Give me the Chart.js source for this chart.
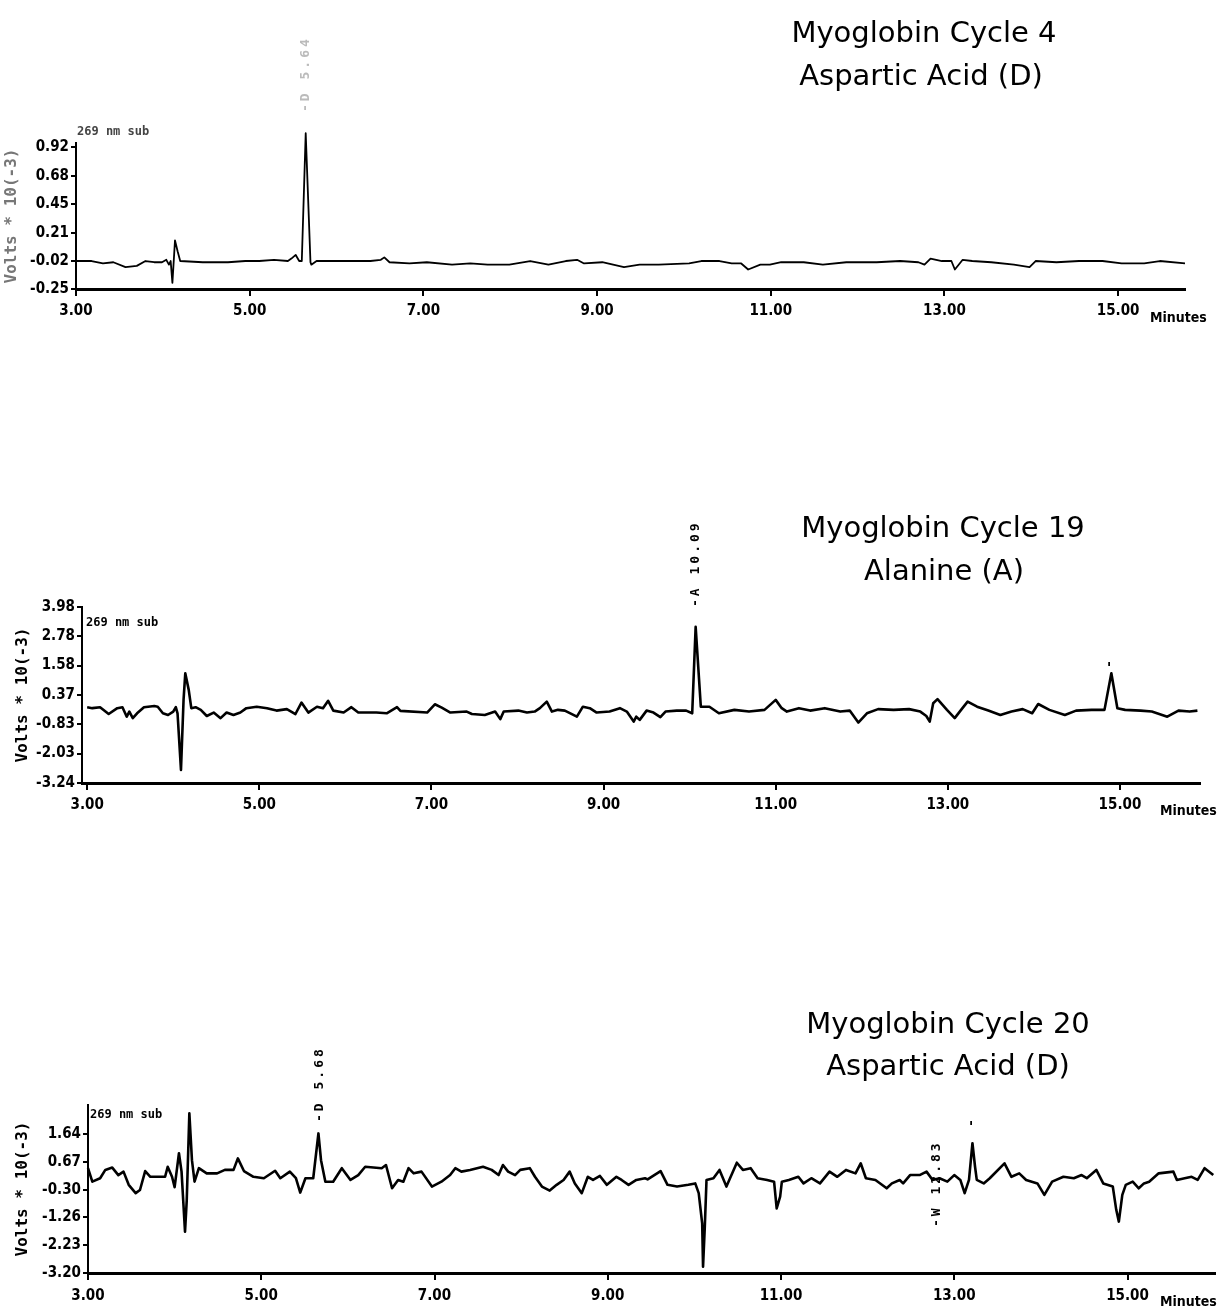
<!DOCTYPE html>
<html>
<head>
<meta charset="utf-8">
<script src="https://cdn.jsdelivr.net/npm/chart.js@4.4.1/dist/chart.umd.min.js"></script>
<style>
  html, body { margin: 0; padding: 0; background: #fff; }
  body { width: 1218px; height: 1308px; position: relative; overflow: hidden; }
  .panel { position: absolute; left: 0; }
</style>
</head>
<body>
<div class="panel" style="top:0"><canvas id="cycle4Chart" width="1218" height="330" style="width:1218px;height:330px"></canvas></div>
<div class="panel" style="top:330px"><canvas id="cycle19Chart" width="1218" height="500" style="width:1218px;height:500px"></canvas></div>
<div class="panel" style="top:830px"><canvas id="cycle20Chart" width="1218" height="478" style="width:1218px;height:478px"></canvas></div>
<script>
// Tick values
const xTickMinutes = [3, 5, 7, 9, 11, 13, 15];
const cycle4YTicks = [-0.25, -0.02, 0.21, 0.45, 0.68, 0.92];
const cycle19YTicks = [-3.24, -2.03, -0.83, 0.37, 1.58, 2.78, 3.98];
const cycle20YTicks = [-3.20, -2.23, -1.26, -0.30, 0.67, 1.64];

// Cycle 4 trace (minutes / volts * 10^-3)
const cycle4Time = [3.00, 3.18, 3.31, 3.43, 3.57, 3.70, 3.80, 3.90, 3.99, 4.04, 4.07, 4.09, 4.11, 4.14, 4.17, 4.20,
  4.46, 4.75, 4.95, 5.11, 5.28, 5.44, 5.48, 5.53, 5.57, 5.60, 5.645, 5.70, 5.71, 5.77, 6.10, 6.39, 6.51, 6.55, 6.61,
  6.84, 7.04, 7.33, 7.54, 7.74, 7.99, 8.23, 8.44, 8.64, 8.77, 8.85, 9.06, 9.31, 9.49, 9.71, 10.06, 10.20, 10.41,
  10.55, 10.66, 10.74, 10.88, 10.99, 11.12, 11.38, 11.60, 11.87, 12.22, 12.49, 12.70, 12.77, 12.84, 12.97, 13.08,
  13.12, 13.21, 13.32, 13.54, 13.80, 13.98, 14.05, 14.29, 14.55, 14.82, 15.04, 15.30, 15.48, 15.77];
const cycle4Volts = [-0.02, -0.02, -0.04, -0.03, -0.07, -0.06, -0.02, -0.03, -0.03, -0.01, -0.05, -0.02, -0.20, 0.15, 0.06, -0.02,
  -0.03, -0.03, -0.02, -0.02, -0.01, -0.02, 0.00, 0.03, -0.02, -0.02, 1.03, -0.03, -0.05, -0.02, -0.02, -0.02, -0.01, 0.01, -0.03,
  -0.04, -0.03, -0.05, -0.04, -0.05, -0.05, -0.02, -0.05, -0.02, -0.01, -0.04, -0.03, -0.07, -0.05, -0.05, -0.04, -0.02, -0.02,
  -0.04, -0.04, -0.09, -0.05, -0.05, -0.03, -0.03, -0.05, -0.03, -0.03, -0.02, -0.03, -0.05, 0.00, -0.02, -0.02,
  -0.09, -0.01, -0.02, -0.03, -0.05, -0.07, -0.02, -0.03, -0.02, -0.02, -0.04, -0.04, -0.02, -0.04];

// Cycle 19 trace
const cycle19Time = [3.00, 3.06, 3.15, 3.25, 3.35, 3.41, 3.46, 3.49, 3.53, 3.58, 3.66, 3.78, 3.82, 3.88, 3.94, 4.00,
  4.03, 4.05, 4.09, 4.12, 4.14, 4.18, 4.21, 4.26, 4.32, 4.39, 4.47, 4.55, 4.62, 4.70, 4.78, 4.85, 4.97, 5.09, 5.20,
  5.32, 5.42, 5.49, 5.57, 5.67, 5.74, 5.80, 5.86, 5.98, 6.07, 6.15, 6.25, 6.36, 6.48, 6.60, 6.64, 6.95, 7.04, 7.12,
  7.22, 7.41, 7.47, 7.62, 7.74, 7.80, 7.84, 8.01, 8.11, 8.20, 8.26, 8.34, 8.40, 8.47, 8.55, 8.69, 8.76, 8.84, 8.92,
  9.07, 9.19, 9.27, 9.35, 9.38, 9.42, 9.50, 9.58, 9.66, 9.72, 9.85, 9.96, 10.03, 10.07, 10.13, 10.23, 10.34, 10.52,
  10.69, 10.87, 11.00, 11.07, 11.13, 11.27, 11.40, 11.57, 11.75, 11.86, 11.96, 12.06, 12.19, 12.37, 12.55, 12.68,
  12.75, 12.79, 12.83, 12.88, 12.99, 13.08, 13.17, 13.23, 13.34, 13.47, 13.61, 13.74, 13.87, 13.98, 14.05, 14.18,
  14.36, 14.49, 14.67, 14.82, 14.90, 14.97, 15.06, 15.24, 15.37, 15.55, 15.68, 15.81, 15.90];
const cycle19Volts = [-0.13, -0.17, -0.13, -0.41, -0.17, -0.13, -0.52, -0.31, -0.58, -0.38, -0.13, -0.08, -0.11, -0.38, -0.45, -0.31,
  -0.13, -0.38, -2.70, 0.17, 1.26, 0.58, -0.17, -0.13, -0.24, -0.49, -0.35, -0.58, -0.35, -0.45, -0.35, -0.17, -0.11, -0.17, -0.27,
  -0.21, -0.41, 0.06, -0.35, -0.11, -0.17, 0.13, -0.27, -0.35, -0.13, -0.35, -0.35, -0.35, -0.38, -0.13, -0.28, -0.35, -0.01, -0.15,
  -0.35, -0.31, -0.41, -0.45, -0.31, -0.62, -0.31, -0.27, -0.35, -0.31, -0.17, 0.10, -0.31, -0.24, -0.27, -0.52, -0.11, -0.17, -0.35,
  -0.31, -0.17, -0.31, -0.72, -0.52, -0.65, -0.27, -0.35, -0.54, -0.31, -0.27, -0.27, -0.38, 3.17, -0.11, -0.11, -0.38, -0.24,
  -0.31, -0.24, 0.17, -0.17, -0.31, -0.17, -0.27, -0.17, -0.31, -0.27, -0.76, -0.38, -0.21, -0.24, -0.21, -0.31,
  -0.49, -0.72, 0.03, 0.20, -0.24, -0.58, -0.17, 0.10, -0.11, -0.27, -0.45, -0.31, -0.21, -0.38, 0.00, -0.24,
  -0.45, -0.27, -0.24, -0.24, 1.26, -0.17, -0.24, -0.27, -0.31, -0.52, -0.27, -0.31, -0.27];

// Cycle 20 trace
const cycle20Time = [3.00, 3.05, 3.14, 3.20, 3.28, 3.35, 3.41, 3.47, 3.55, 3.60, 3.66, 3.72, 3.89, 3.92, 3.97, 4.00,
  4.05, 4.08, 4.12, 4.14, 4.17, 4.20, 4.23, 4.28, 4.37, 4.49, 4.58, 4.68, 4.73, 4.80, 4.91, 5.03, 5.16, 5.22, 5.33,
  5.40, 5.45, 5.51, 5.60, 5.66, 5.69, 5.74, 5.83, 5.93, 6.03, 6.12, 6.20, 6.39, 6.44, 6.51, 6.58, 6.64, 6.70, 6.76,
  6.85, 6.97, 7.08, 7.18, 7.24, 7.31, 7.41, 7.56, 7.66, 7.74, 7.79, 7.85, 7.93, 7.99, 8.10, 8.16, 8.24, 8.33, 8.41,
  8.49, 8.56, 8.62, 8.70, 8.77, 8.83, 8.91, 8.99, 9.10, 9.16, 9.24, 9.33, 9.43, 9.46, 9.61, 9.69, 9.80, 9.93, 10.01,
  10.05, 10.09, 10.10, 10.12, 10.14, 10.22, 10.29, 10.37, 10.49, 10.56, 10.65, 10.73, 10.84, 10.92, 10.95, 10.99,
  11.01, 11.09, 11.20, 11.26, 11.35, 11.45, 11.56, 11.65, 11.75, 11.86, 11.92, 11.98, 12.09, 12.22, 12.28, 12.37,
  12.41, 12.49, 12.60, 12.68, 12.75, 12.83, 12.92, 13.00, 13.07, 13.12, 13.17, 13.21, 13.24, 13.26, 13.34, 13.41,
  13.58, 13.66, 13.75, 13.83, 13.96, 14.04, 14.13, 14.26, 14.38, 14.47, 14.53, 14.64, 14.72, 14.83, 14.87, 14.90,
  14.94, 14.98, 15.06, 15.13, 15.19, 15.25, 15.36, 15.53, 15.57, 15.66, 15.74, 15.81, 15.89, 15.99];
const cycle20Volts = [0.45, -0.02, 0.10, 0.39, 0.47, 0.21, 0.33, -0.13, -0.42, -0.31, 0.35, 0.15, 0.15, 0.50, 0.15, -0.21,
  0.97, 0.33, -1.76, -0.66, 2.36, 0.73, -0.02, 0.45, 0.27, 0.27, 0.39, 0.39, 0.79, 0.35, 0.15, 0.10, 0.36, 0.10, 0.33,
  0.10, -0.40, 0.10, 0.10, 1.66, 0.73, -0.02, -0.02, 0.45, 0.04, 0.21, 0.50, 0.45, 0.56, -0.25, 0.04, -0.02, 0.45, 0.27,
  0.33, -0.19, -0.02, 0.21, 0.45, 0.33, 0.39, 0.50, 0.39, 0.21, 0.56, 0.33, 0.21, 0.39, 0.45, 0.15, -0.19, -0.33, -0.13,
  0.04, 0.33, -0.08, -0.42, 0.15, 0.04, 0.18, -0.13, 0.15, 0.04, -0.13, 0.04, 0.10, 0.06, 0.35, -0.13, -0.19, -0.13, -0.08,
  -0.42, -1.47, -2.98, -1.61, 0.04, 0.10, 0.39, -0.19, 0.64, 0.39, 0.45, 0.10, 0.04, -0.02, -0.95, -0.54,
  -0.02, 0.04, 0.15, -0.08, 0.10, -0.08, 0.33, 0.15, 0.39, 0.27, 0.62, 0.10, 0.04, -0.25, -0.08, 0.04,
  -0.08, 0.21, 0.21, 0.33, 0.04, 0.10, -0.02, 0.21, 0.04, -0.42, 0.04, 1.32, 0.50, 0.04, -0.08, 0.10,
  0.62, 0.15, 0.27, 0.04, -0.08, -0.48, -0.02, 0.15, 0.10, 0.21, 0.10, 0.39, -0.08, -0.19, -1.00, -1.41,
  -0.48, -0.13, -0.02, -0.25, -0.08, -0.02, 0.27, 0.33, 0.04, 0.10, 0.15, 0.04, 0.45, 0.21];

// Peak annotations
const cycle4PeakText = ['-D 5.64'];
const cycle4PeakTime = [5.64];
const cycle19PeakText = ['-A 10.09', '-'];
const cycle19PeakTime = [10.07, 14.88];
const cycle20PeakText = ['-D 5.68', '-W 12.83', '-'];
const cycle20PeakTime = [5.67, 12.80, 13.20];

const tickFont = { family: "'Liberation Sans Narrow', 'DejaVu Sans Condensed', 'DejaVu Sans Mono'", size: 15, weight: 'bold' };
const monoFont = "'DejaVu Sans Mono', monospace";
const titleFont = "29px 'DejaVu Sans', sans-serif";

const panels = [
  {
    id: 'cycle4Chart', height: 330, time: cycle4Time, volts: cycle4Volts, yTicks: cycle4YTicks,
    xMin: 3, xMax: 15.77, yMin: -0.25, yMax: 0.95,
    leftW: 76, xH: 41, padTop: 143, padRight: 33, lineWidth: 1.8, tickPad: 6,
    yTitleColor: '#777', yTitlePad: 2,
    titles: [{ text: 'Myoglobin Cycle 4', x: 924, y: 42 }, { text: 'Aspartic Acid (D)', x: 921, y: 85 }],
    sub: { x: 77, y: 135, color: '#444' }, minutes: { x: 1150, y: 318 },
    peakText: cycle4PeakText, peakTime: cycle4PeakTime, peakY: [112], peakColor: '#bbb'
  },
  {
    id: 'cycle19Chart', height: 500, time: cycle19Time, volts: cycle19Volts, yTicks: cycle19YTicks,
    xMin: 2.94, xMax: 15.93, yMin: -3.24, yMax: 3.98,
    leftW: 82, xH: 47, padTop: 277, padRight: 18, lineWidth: 2.6, tickPad: 6,
    yTitleColor: '#000', yTitlePad: 13,
    titles: [{ text: 'Myoglobin Cycle 19', x: 943, y: 207 }, { text: 'Alanine (A)', x: 944, y: 250 }],
    sub: { x: 86, y: 296, color: '#000' }, minutes: { x: 1160, y: 481 },
    peakText: cycle19PeakText, peakTime: cycle19PeakTime, peakY: [277, 338], peakColor: '#000'
  },
  {
    id: 'cycle20Chart', height: 478, time: cycle20Time, volts: cycle20Volts, yTicks: cycle20YTicks,
    xMin: 3, xMax: 16.01, yMin: -3.20, yMax: 2.65,
    leftW: 88, xH: 35, padTop: 275, padRight: 3, lineWidth: 2.6, tickPad: 7,
    yTitleColor: '#000', yTitlePad: 13,
    titles: [{ text: 'Myoglobin Cycle 20', x: 948, y: 203 }, { text: 'Aspartic Acid (D)', x: 948, y: 245 }],
    sub: { x: 90, y: 288, color: '#000' }, minutes: { x: 1160, y: 472 },
    peakText: cycle20PeakText, peakTime: cycle20PeakTime, peakY: [292, 397, 297], peakColor: '#000'
  }
];

function annotatePlugin(p) {
  return {
    id: 'annotate',
    afterDraw(chart) {
      const ctx = chart.ctx;
      const x = chart.scales.x;
      ctx.save();
      ctx.fillStyle = '#000';
      ctx.textAlign = 'center';
      ctx.textBaseline = 'alphabetic';
      ctx.font = titleFont;
      p.titles.forEach(line => ctx.fillText(line.text, line.x, line.y));

      // wavelength note next to the y axis
      ctx.textAlign = 'left';
      ctx.fillStyle = p.sub.color;
      ctx.font = 'bold 12px ' + monoFont;
      ctx.fillText('269 nm sub', p.sub.x, p.sub.y);

      ctx.fillStyle = '#000';
      ctx.font = 'bold 14px ' + tickFont.family;
      ctx.textBaseline = 'middle';
      ctx.fillText('Minutes', p.minutes.x, p.minutes.y);

      // peak labels, written upward
      ctx.font = 'bold 13px ' + monoFont;
      ctx.fillStyle = p.peakColor;
      ctx.letterSpacing = '3px';
      p.peakText.forEach((txt, i) => {
        ctx.save();
        ctx.translate(x.getPixelForValue(p.peakTime[i]), p.peakY[i]);
        ctx.rotate(-Math.PI / 2);
        ctx.textAlign = 'left';
        ctx.textBaseline = 'middle';
        ctx.fillText(txt, 0, 0);
        ctx.restore();
      });
      ctx.restore();
    }
  };
}

function buildPanel(p) {
  const ctx = document.getElementById(p.id).getContext('2d');
  return new Chart(ctx, {
    type: 'line',
    data: {
      datasets: [{
        data: p.time.map((t, i) => ({ x: t, y: p.volts[i] })),
        borderColor: '#000',
        borderWidth: p.lineWidth,
        borderJoinStyle: 'round',
        pointRadius: 0,
        tension: 0,
        fill: false,
        clip: false
      }]
    },
    options: {
      responsive: false,
      animation: false,
      layout: { padding: { top: p.padTop, right: p.padRight, left: 0, bottom: 0 } },
      scales: {
        x: {
          type: 'linear',
          min: p.xMin,
          max: p.xMax,
          afterBuildTicks: s => { s.ticks = xTickMinutes.map(v => ({ value: v })); },
          afterFit: s => { s.height = p.xH; },
          ticks: {
            autoSkip: false, maxRotation: 0, padding: p.tickPad, color: '#000', font: tickFont,
            callback: v => Number(v).toFixed(2)
          },
          grid: { drawOnChartArea: false, drawTicks: true, tickLength: 7, color: '#000', lineWidth: 2 },
          border: { display: true, color: '#000', width: 3 }
        },
        y: {
          type: 'linear',
          min: p.yMin,
          max: p.yMax,
          afterBuildTicks: s => { s.ticks = p.yTicks.map(v => ({ value: v })); },
          afterFit: s => { s.width = p.leftW; },
          ticks: {
            autoSkip: false, padding: 2, color: '#000', font: tickFont,
            callback: v => Number(v).toFixed(2)
          },
          grid: { drawOnChartArea: false, drawTicks: true, tickLength: 5, color: '#000', lineWidth: 2 },
          border: { display: true, color: '#000', width: 2 },
          title: {
            display: true, text: 'Volts * 10(-3)', color: p.yTitleColor,
            font: { family: monoFont, size: 16, weight: 'bold' },
            padding: { top: p.yTitlePad, bottom: 0 }
          }
        }
      },
      plugins: { legend: { display: false }, tooltip: { enabled: false }, title: { display: false } }
    },
    plugins: [annotatePlugin(p)]
  });
}

panels.forEach(buildPanel);
</script>
</body>
</html>
